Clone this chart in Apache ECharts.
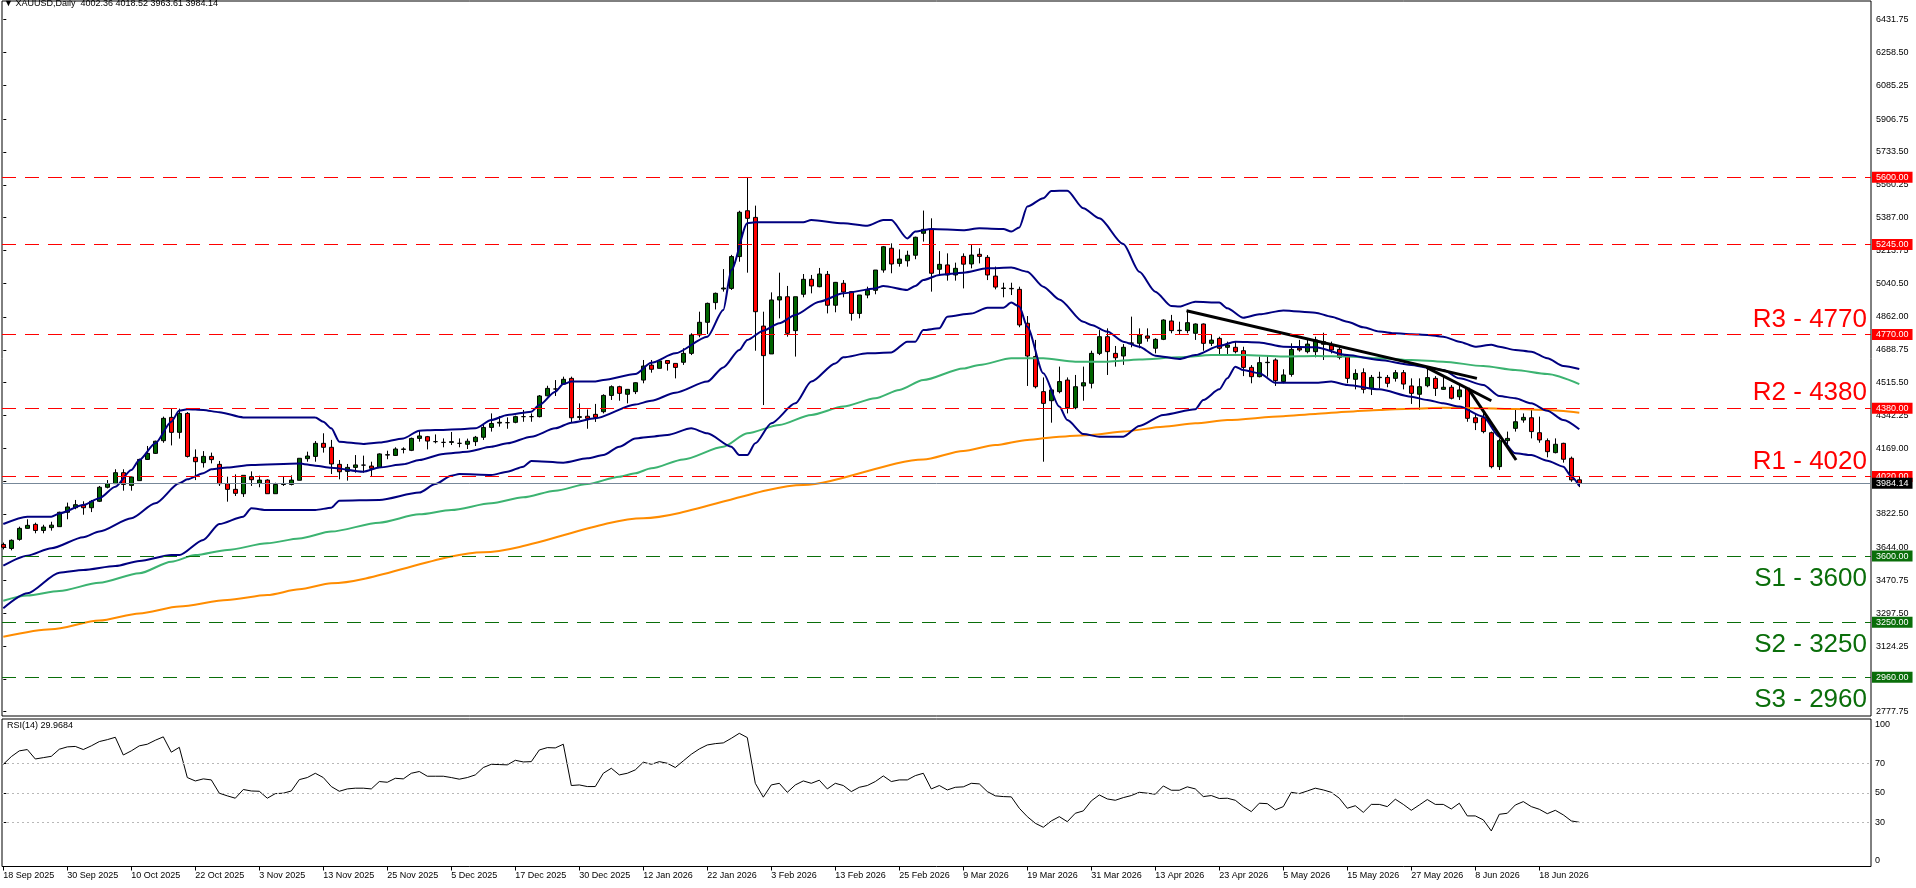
<!DOCTYPE html>
<html>
<head>
<meta charset="utf-8">
<script src="https://cdn.jsdelivr.net/npm/echarts@6/dist/echarts.min.js"></script>
<style>
  html, body { margin: 0; padding: 0; background: #fff; }
  #chart { width: 1916px; height: 888px; }
</style>
</head>
<body>
<div id="chart"></div>
<script>
// x-axis date ticks, one every 8 daily bars
const tickLabels = ['18 Sep 2025', '30 Sep 2025', '10 Oct 2025', '22 Oct 2025', '3 Nov 2025', '13 Nov 2025',
  '25 Nov 2025', '5 Dec 2025', '17 Dec 2025', '30 Dec 2025', '12 Jan 2026', '22 Jan 2026', '3 Feb 2026',
  '13 Feb 2026', '25 Feb 2026', '9 Mar 2026', '19 Mar 2026', '31 Mar 2026', '13 Apr 2026', '23 Apr 2026',
  '5 May 2026', '15 May 2026', '27 May 2026', '8 Jun 2026', '18 Jun 2026'];
const tickBars = [0, 8, 16, 24, 32, 40, 48, 56, 64, 72, 80, 88, 96, 104, 112, 120, 128, 136, 144, 152, 160, 168, 176, 184, 192];

// price scale labels on the right
const priceTicks = [6431.75, 6258.50, 6085.25, 5906.75, 5733.50, 5560.25, 5387.00, 5213.75, 5040.50, 4862.00,
  4688.75, 4515.50, 4342.25, 4169.00, 3995.75, 3822.50, 3644.00, 3470.75, 3297.50, 3124.25, 2951.00, 2777.75];

// daily OHLC, bar 0 = 18 Sep 2025
const opens = [3661,3640,3688,3746,3767,3735,3750,3755,3831,3855, 3869,3855,3889,3963,3982,4040,3973,3998,4110,4142,
  4209,4332,4253,4353,4121,4093,4126,4084,3982,3952, 3929,4019,3984,4001,3929,3978,3978,4000,4114,4126,
  4195,4174,4084,4047,4068,4080,4075,4068,4133,4131, 4163,4158,4221,4230,4204,4200,4200,4195,4190,4204,
  4227,4279,4302,4304,4306,4336,4336,4336,4446,4482, 4508,4538,4332,4338,4348,4362,4448,4494,4454,4468,
  4529,4608,4591,4632,4617,4623,4670,4767,4834,4938, 5010,5013,5181,5423,5388,4814,4667,4952,4969,4790,
  4982,5061,5022,5087,4924,5040,4996,4881,4978,5003, 5110,5225,5145,5159,5188,5304,5325,5114,5137,5084,
  5182,5142,5193,5177,5078,5013,5013,5008,4829,4653, 4468,4420,4468,4529,4383,4498,4512,4670,4758,4670,
  4656,4723,4723,4762,4697,4744,4841,4790,4790,4776, 4825,4723,4749,4702,4702,4684,4596,4547,4621,4635,
  4521,4559,4697,4679,4679,4732,4714,4691,4656,4533, 4568,4484,4542,4543,4538,4568,4498,4454,4499,4538,
  4480,4491,4441,4485,4330,4330,4251,4072,4209,4274, 4318,4330,4251,4209,4146,4195,4116,4002.36];
const highs = [3671,3688,3755,3794,3776,3765,3781,3834,3882,3896, 3889,3896,3970,4001,4058,4058,4019,4114,4181,4209,
  4336,4380,4378,4360,4163,4154,4146,4102,4019,4031, 4026,4047,4024,4005,3987,4021,4026,4116,4151,4207,
  4248,4213,4107,4086,4133,4130,4098,4142,4156,4174, 4174,4225,4265,4234,4242,4221,4255,4221,4220,4234,
  4295,4353,4339,4332,4341,4371,4353,4450,4499,4529, 4547,4547,4406,4374,4403,4454,4501,4499,4482,4517,
  4635,4635,4630,4632,4617,4697,4776,4890,4938,4991, 5115,5190,5423,5600,5450,4890,4992,5096,5026,4969,
  5089,5084,5121,5105,5047,5057,4999,4978,5022,5110, 5237,5251,5219,5212,5286,5424,5383,5210,5198,5149,
  5198,5242,5225,5189,5128,5043,5043,5022,4867,4741, 4543,4485,4600,4543,4556,4600,4684,4793,4802,4709,
  4719,4864,4802,4802,4750,4850,4873,4837,4895,4828, 4828,4767,4758,4732,4732,4705,4608,4653,4661,4644,
  4586,4723,4741,4749,4758,4779,4732,4709,4661,4586, 4591,4556,4573,4556,4582,4582,4538,4538,4600,4550,
  4550,4503,4503,4491,4353,4362,4257,4221,4257,4371, 4353,4380,4336,4221,4221,4198,4125,4018.52];
const lows = [3635,3630,3681,3744,3720,3720,3734,3755,3794,3847, 3818,3832,3885,3957,3982,3945,3945,3998,4107,4139,
  4198,4184,4220,4120,4001,4067,4089,3970,3887,3917, 3912,3970,3963,3929,3929,3970,3973,4000,4098,4098,
  4146,4033,4005,3998,4040,4040,4022,4068,4111,4128, 4142,4154,4204,4163,4195,4174,4186,4174,4165,4181,
  4213,4257,4283,4272,4301,4309,4309,4332,4443,4445, 4508,4304,4318,4272,4308,4353,4424,4420,4406,4455,
  4512,4568,4591,4579,4538,4609,4661,4755,4772,4902, 4996,5005,5154,5096,4684,4397,4667,4855,4758,4653,
  4966,4987,5019,4881,4887,4966,4843,4855,4961,4982, 5096,5093,5128,5128,5167,5260,4996,5084,5054,5054,
  5013,5119,5145,5057,5008,4966,4978,4808,4498,4485, 4098,4304,4459,4353,4375,4420,4485,4661,4556,4600,
  4609,4702,4697,4732,4670,4740,4776,4767,4776,4741, 4684,4709,4661,4661,4670,4550,4512,4543,4547,4498,
  4512,4547,4679,4670,4649,4635,4670,4638,4512,4480, 4459,4450,4485,4491,4521,4480,4403,4371,4491,4445,
  4477,4427,4424,4309,4265,4248,4063,4054,4191,4257, 4304,4221,4198,4121,4142,4093,3992,3963.61];
const closes = [3646,3683,3746,3762,3735,3753,3763,3831,3859,3871, 3855,3889,3963,3982,4040,3978,4017,4110,4142,4206,
  4327,4253,4353,4126,4098,4126,4109,3982,3952,3931, 4026,4003,4001,3929,3978,3980,4001,4116,4128,4195,
  4174,4086,4045,4068,4081,4080,4063,4139,4135,4165, 4165,4221,4234,4207,4204,4200,4204,4195,4206,4227,
  4279,4300,4306,4304,4336,4336,4336,4445,4485,4482, 4533,4330,4336,4327,4332,4448,4494,4459,4480,4515,
  4603,4586,4630,4617,4596,4670,4767,4834,4934,4987, 5015,5181,5415,5383,4890,4658,4952,4969,4776,4969,
  5061,5026,5089,4924,5045,4994,4881,4978,5003,5110, 5233,5142,5168,5188,5283,5325,5093,5140,5084,5119,
  5141,5189,5182,5084,5020,5015,5011,4820,4656,4494, 4406,4477,4521,4383,4494,4515,4670,4758,4679,4647,
  4702,4725,4767,4750,4744,4846,4790,4792,4832,4825, 4723,4740,4697,4714,4679,4596,4547,4621,4623,4526,
  4556,4691,4688,4719,4741,4718,4688,4649,4538,4564, 4480,4543,4544,4512,4568,4508,4459,4494,4542,4485,
  4491,4433,4477,4327,4304,4257,4072,4209,4221,4309, 4332,4257,4213,4151,4190,4111,4002,3984.14];

// Bollinger Bands (20, 2), read as [bar, price]
const bbUpper = [[0,3769],[3,3808],[6,3808],[7,3825],[10,3869],[12,3905],[14,3966],[16,4054],[17,4107],[19,4195],
  [21,4309],[22,4368],[23,4375],[25,4371],[27,4359],[30,4332],[39,4331],[40,4309],[41,4274],[42,4204],[45,4192],
  [47,4199],[50,4221],[52,4262],[54,4265],[57,4269],[59,4274],[61,4318],[63,4345],[66,4362],[67,4397],[69,4468],
  [70,4508],[71,4521],[74,4521],[75,4529],[79,4561],[81,4620],[84,4670],[88,4758],[90,4899],[91,5110],[93,5357],
  [94,5362],[100,5362],[101,5374],[105,5357],[108,5344],[110,5374],[111,5374],[113,5277],[114,5313],[116,5327],
  [120,5320],[122,5330],[125,5327],[126,5313],[127,5335],[128,5445],[130,5489],[131,5527],[133,5529],[135,5436],
  [137,5383],[140,5247],[142,5101],[144,4996],[146,4920],[147,4917],[149,4943],[152,4938],[153,4908],[155,4858],
  [157,4876],[160,4897],[164,4885],[166,4864],[168,4837],[170,4808],[172,4785],[174,4776],[176,4771],[178,4767],
  [180,4758],[182,4732],[184,4705],[186,4715],[187,4705],[189,4688],[191,4679],[193,4644],[195,4603],[197,4587]];
const bbMiddle = [[0,3549],[3,3602],[6,3641],[10,3699],[12,3729],[16,3799],[19,3878],[22,3984],[23,4005],[25,4037],
  [26,4058],[28,4068],[31,4081],[37,4089],[39,4077],[41,4066],[45,4045],[47,4068],[50,4084],[52,4107],[55,4139],
  [58,4151],[61,4177],[63,4195],[66,4230],[69,4274],[71,4304],[74,4327],[79,4400],[81,4420],[84,4462],[88,4521],
  [90,4596],[92,4688],[93,4741],[95,4790],[97,4829],[99,4873],[102,4943],[105,4987],[109,5013],[110,5026],
  [113,5005],[114,5026],[115,5057],[117,5084],[120,5096],[123,5119],[126,5123],[128,5101],[130,5022],[132,4955],
  [135,4837],[136,4820],[138,4785],[140,4732],[142,4705],[144,4658],[147,4640],[149,4661],[152,4709],[154,4732],
  [157,4728],[160,4705],[164,4702],[168,4661],[172,4635],[176,4609],[178,4596],[180,4582],[182,4538],[185,4503],
  [187,4445],[189,4433],[191,4406],[193,4367],[195,4318],[197,4269]];
const bbLower = [[0,3324],[3,3403],[7,3512],[10,3526],[14,3547],[17,3574],[21,3605],[22,3605],[25,3685],[27,3769],
  [30,3808],[31,3852],[33,3843],[39,3843],[41,3855],[42,3892],[47,3896],[52,3935],[54,3980],[56,4024],[57,4033],
  [61,4028],[63,4045],[65,4072],[66,4102],[70,4093],[73,4116],[75,4133],[77,4177],[79,4221],[81,4230],[83,4239],
  [86,4274],[88,4248],[91,4177],[92,4133],[93,4133],[94,4195],[96,4301],[99,4406],[101,4521],[104,4617],[105,4649],
  [108,4670],[111,4675],[113,4732],[114,4732],[115,4793],[117,4802],[118,4864],[121,4880],[123,4911],[125,4911],
  [126,4938],[127,4917],[128,4811],[130,4565],[132,4389],[133,4318],[135,4244],[137,4230],[140,4230],[142,4287],
  [145,4345],[149,4375],[150,4424],[152,4480],[153,4538],[154,4600],[155,4582],[157,4565],[159,4515],[164,4515],
  [166,4521],[168,4503],[172,4480],[176,4441],[178,4424],[180,4406],[182,4389],[185,4336],[187,4230],[189,4142],
  [191,4133],[193,4103],[195,4072],[196,4020],[197,3970]];

// moving averages, read as [bar, price]
const ma100 = [[0,3364],[3,3391],[7,3415],[12,3459],[17,3509],[21,3570],[24,3605],[28,3632],[33,3667],[37,3693],
  [41,3729],[47,3776],[52,3820],[56,3843],[61,3878],[65,3910],[69,3945],[73,3980],[77,4019],[79,4037],[81,4063],
  [85,4110],[90,4177],[93,4248],[97,4292],[101,4345],[105,4389],[109,4433],[112,4477],[115,4529],[120,4590],
  [122,4609],[126,4644],[130,4644],[134,4626],[138,4626],[142,4638],[147,4649],[151,4661],[155,4661],[160,4653],
  [164,4656],[168,4653],[172,4644],[176,4635],[180,4626],[185,4603],[189,4582],[193,4561],[197,4508]];
const ma200 = [[0,3174],[6,3213],[12,3259],[17,3297],[22,3333],[28,3368],[33,3394],[37,3424],[41,3456],[60,3620],
  [80,3800],[100,3975],[115,4110],[120,4155],[124,4186],[128,4213],[132,4230],[136,4239],[140,4257],[145,4283],
  [149,4301],[153,4318],[160,4338],[164,4350],[168,4362],[172,4371],[176,4378],[180,4383],[185,4380],[189,4376],
  [193,4371],[197,4357]];

// hand-drawn trend lines
const trendA = [[147.9, 4895], [184.2, 4538]];
const trendB = [[177.9, 4596], [186.0, 4420]];
const trendC = [[183.1, 4485], [189.1, 4107]];

// RSI(14), one value per bar
const rsi = [69.3,74.5,78.4,79.3,72.9,73.8,74.7,79.5,81.1,81.4, 79.3,81.8,84.7,86.0,87.6,75.6,78.4,81.8,82.9,85.6,
  87.9,77.5,80.8,60.3,58.0,59.4,58.7,49.7,47.9,46.3, 52.2,51.2,51.0,46.3,49.4,49.7,51.2,58.9,60.3,63.2,
  60.3,54.2,51.0,52.6,53.1,53.1,52.6,57.6,57.1,59.8, 59.4,63.2,64.4,61.2,61.2,61.2,60.3,59.2,60.3,62.1,
  67.1,69.3,69.1,68.9,72.0,70.9,71.1,79.0,80.6,80.4, 82.9,54.9,55.3,54.2,54.2,63.2,66.6,62.1,63.2,65.5,
  70.7,69.3,71.1,70.0,67.1,71.6,76.1,79.7,82.4,83.3, 83.8,86.9,90.3,87.4,56.4,47.0,55.3,56.4,50.3,55.3,
  58.0,56.4,58.5,52.6,56.4,54.9,50.8,53.7,54.9,57.6, 61.4,57.6,58.7,58.7,61.6,63.2,52.6,54.9,51.9,53.7,
  54.0,56.4,56.0,50.8,47.9,47.4,47.2,39.5,33.8,29.3, 26.6,30.9,33.8,30.4,36.1,37.7,44.5,48.5,45.8,44.9,
  46.7,48.1,50.3,49.7,49.0,54.6,51.7,51.7,54.0,52.6, 47.4,48.1,46.1,46.3,44.9,40.6,37.2,42.9,42.6,38.4,
  40.6,50.3,49.4,51.2,53.1,51.9,50.3,46.3,39.5,41.2, 36.7,42.1,42.1,40.6,45.6,42.1,38.1,41.7,45.4,42.1,
  42.1,39.0,42.9,34.3,34.3,31.6,24.1,35.4,36.1,41.7, 44.0,40.6,38.8,35.8,38.1,35.0,30.9,29.97];

// support / resistance levels
const resLevels = [5600, 5245, 4770, 4380, 4020];
const supLevels = [3600, 3250, 2960];
const resTexts = [['R3 - 4770', 4770], ['R2 - 4380', 4380], ['R1 - 4020', 4020]];
const supTexts = [['S1 - 3600', 3600], ['S2 - 3250', 3250], ['S3 - 2960', 2960]];
const lastPrice = 3984.14;
const rsiLevels = [70, 50, 30];

const AX_FONT = "'Liberation Sans', Arial, sans-serif";
const BIG_FONT = "'Liberation Sans Narrow', 'Arial Narrow', 'Liberation Sans', sans-serif";
const RED = '#ff0000';
const GREEN = '#0a6e0a';

const candles = opens.map((o, i) => [i, o, closes[i], lows[i], highs[i]]);

function tag(bg) {
  return {
    show: true, position: 'end', distance: 1,
    backgroundColor: bg, color: '#fff', fontFamily: AX_FONT, fontSize: 9,
    padding: [1, 4, 0, 4], lineHeight: 10
  };
}

const levelMarks = [];
resLevels.forEach(v => levelMarks.push({
  yAxis: v, lineStyle: { color: RED, type: [14, 9], width: 1 },
  label: Object.assign(tag(RED), { formatter: v.toFixed(2) })
}));
supLevels.forEach(v => levelMarks.push({
  yAxis: v, lineStyle: { color: GREEN, type: [14, 9], width: 1 },
  label: Object.assign(tag(GREEN), { formatter: v.toFixed(2) })
}));
levelMarks.push({
  yAxis: lastPrice, lineStyle: { color: '#778899', type: 'solid', width: 1 },
  label: Object.assign(tag('#000'), { formatter: lastPrice.toFixed(2) })
});
// big level captions ride on invisible copies of the level lines
const hidden = { color: 'rgba(0,0,0,0)', width: 0, opacity: 1 };
resTexts.forEach(([t, v]) => levelMarks.push({
  yAxis: v, lineStyle: hidden,
  label: { show: true, position: 'insideEndTop', distance: [4, 2], formatter: t, opacity: 1,
    color: RED, fontFamily: BIG_FONT, fontSize: 26 }
}));
supTexts.forEach(([t, v]) => levelMarks.push({
  yAxis: v, lineStyle: hidden,
  label: { show: true, position: 'insideEndBottom', distance: [4, 10], formatter: t, opacity: 1,
    color: GREEN, fontFamily: BIG_FONT, fontSize: 26 }
}));

function lineSeries(data, color, width, extra) {
  return Object.assign({
    type: 'line', xAxisIndex: 0, yAxisIndex: 0, data: data,
    showSymbol: false, symbol: 'none', smooth: 0.25, smoothMonotone: 'x',
    lineStyle: { color: color, width: width }, silent: true, z: 3
  }, extra || {});
}

const xMin = -0.1625, xMax = 233.4625;

const chart = echarts.init(document.getElementById('chart'));
chart.setOption({
  animation: false,
  backgroundColor: '#fff',
  title: [
    { text: '▼ XAUUSD,Daily  4002.36 4018.52 3963.61 3984.14', left: 4, top: -1, padding: 0,
      textStyle: { fontFamily: AX_FONT, fontSize: 9, fontWeight: 'normal', color: '#000' } },
    { text: 'RSI(14) 29.9684', left: 7, top: 721, padding: 0,
      textStyle: { fontFamily: AX_FONT, fontSize: 9, fontWeight: 'normal', color: '#000' } }
  ],
  grid: [
    { left: 2, right: 45, top: 1, height: 715, show: true, borderColor: '#000', borderWidth: 1, backgroundColor: '#fff' },
    { left: 2, right: 45, top: 719, height: 147.5, show: true, borderColor: '#000', borderWidth: 1, backgroundColor: '#fff' }
  ],
  xAxis: [
    { type: 'value', gridIndex: 0, min: xMin, max: xMax,
      axisLine: { show: false }, axisTick: { show: false }, axisLabel: { show: false }, splitLine: { show: false } },
    { type: 'value', gridIndex: 1, min: xMin, max: xMax,
      axisLine: { show: false },
      axisTick: { show: true, customValues: tickBars, length: 4, lineStyle: { color: '#000' } },
      axisLabel: { customValues: tickBars, align: 'left', margin: 5, color: '#000',
        fontFamily: AX_FONT, fontSize: 9,
        formatter: v => tickLabels[tickBars.indexOf(Math.round(v))] || '' },
      splitLine: { show: false } }
  ],
  yAxis: [
    { type: 'value', gridIndex: 0, position: 'right', min: 2755.3, max: 6530.5,
      axisLine: { show: false },
      axisTick: { show: true, customValues: priceTicks, length: 3, lineStyle: { color: '#000' } },
      axisLabel: { customValues: priceTicks, margin: 5, color: '#000', fontFamily: AX_FONT, fontSize: 9,
        formatter: v => v.toFixed(2) },
      splitLine: { show: false } },
    { type: 'value', gridIndex: 1, position: 'right', min: 0, max: 100,
      axisLine: { show: false },
      axisTick: { show: true, customValues: rsiLevels, length: 3, lineStyle: { color: '#000' } },
      axisLabel: { customValues: [96.4, 70, 50, 30, 4.0], margin: 4, color: '#000', fontFamily: AX_FONT, fontSize: 9,
        formatter: v => v > 90 ? '100' : (v < 10 ? '0' : String(v)) },
      splitLine: { show: false } }
  ],
  series: [
    {
      type: 'candlestick', xAxisIndex: 0, yAxisIndex: 0,
      data: candles, encode: { x: 0, y: [1, 2, 3, 4] },
      barWidth: 5, silent: true, z: 2,
      itemStyle: { color: '#006400', color0: RED, borderColor: '#000', borderColor0: '#000', borderWidth: 1 },
      markLine: { silent: true, symbol: ['none', 'none'], animation: false, data: levelMarks }
    },
    lineSeries(ma200, '#ff8c00', 2),
    lineSeries(ma100, '#3cb371', 2),
    lineSeries(bbUpper, '#000080', 2),
    lineSeries(bbMiddle, '#000080', 2),
    lineSeries(bbLower, '#000080', 2),
    lineSeries(trendA, '#000', 3, { smooth: false, z: 4 }),
    lineSeries(trendB, '#000', 3, { smooth: false, z: 4 }),
    lineSeries(trendC, '#000', 3, { smooth: false, z: 4 }),
    {
      type: 'line', xAxisIndex: 1, yAxisIndex: 1, data: rsi.map((v, i) => [i, v]),
      showSymbol: false, symbol: 'none', silent: true,
      lineStyle: { color: '#000', width: 1 },
      markLine: { silent: true, symbol: ['none', 'none'], label: { show: false },
        lineStyle: { color: '#b8b8b8', type: [2, 3], width: 1 },
        data: rsiLevels.map(v => ({ yAxis: v })) }
    }
  ]
});
</script>
</body>
</html>
